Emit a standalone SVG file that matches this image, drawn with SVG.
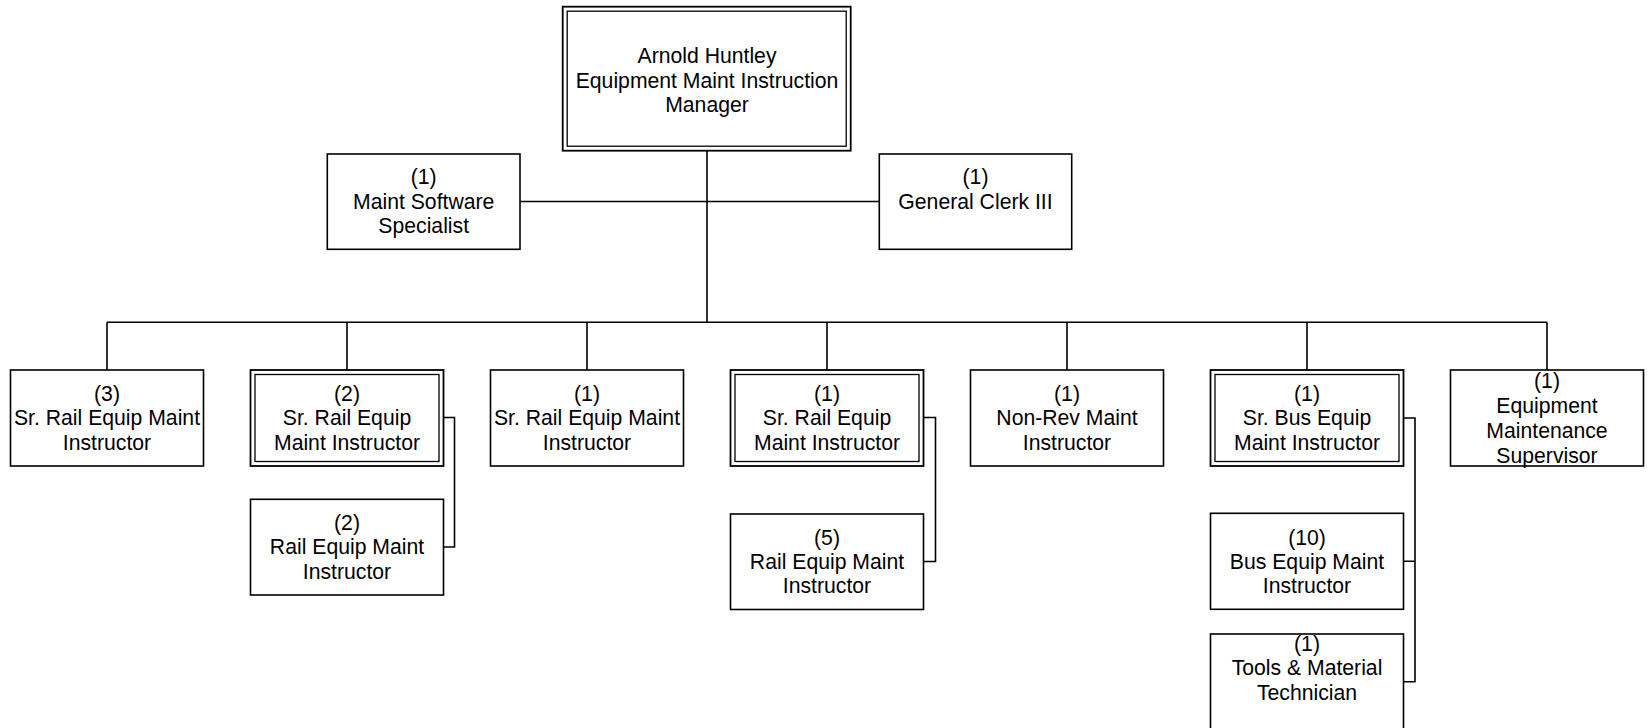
<svg xmlns="http://www.w3.org/2000/svg" width="1647" height="728" viewBox="0 0 1647 728">
<style>
.box{fill:#fff;stroke:#000;stroke-width:1.6}
.outer{fill:#fff;stroke:#000;stroke-width:1.8}
.inner{fill:none;stroke:#000;stroke-width:1.3}
.lbl{font-family:"Liberation Sans",Arial,sans-serif;font-size:21.2px;fill:#000;text-anchor:middle}
.conn{fill:none;stroke:#000;stroke-width:1.6}
</style>
<rect width="1647" height="728" fill="#fff"/>
<g id="connectors" class="conn">
<path d="M707 150.7V322.3"/>
<path d="M520 201.5H879.3"/>
<path d="M107 322.3H1547"/>
<path d="M107 322.3V370M347 322.3V370M587 322.3V370M827 322.3V370M1067 322.3V370M1307 322.3V370M1547 322.3V370"/>
<path d="M443.5 417.5H454.5V547H443.5"/>
<path d="M923.5 417.5H935.5V561.5H923.5"/>
<path d="M1403.5 418H1415V681.7H1403.5M1403.5 561.3H1415"/>
</g>
<g id="manager">
<rect class="outer" x="562.7" y="6.7" width="288" height="144"/>
<rect class="inner" x="567.2" y="11.2" width="279" height="135"/>
<text class="lbl"><tspan x="707" y="63.3">Arnold Huntley</tspan><tspan x="707" y="87.7">Equipment Maint Instruction</tspan><tspan x="707" y="112">Manager</tspan></text>
</g>
<g id="software">
<rect class="box" x="327.3" y="154" width="192.7" height="95.3"/>
<text class="lbl"><tspan x="423.7" y="184">(1)</tspan><tspan x="423.7" y="208.5">Maint Software</tspan><tspan x="423.7" y="233">Specialist</tspan></text>
</g>
<g id="clerk">
<rect class="box" x="879.3" y="154" width="192.4" height="95.3"/>
<text class="lbl"><tspan x="975.5" y="184">(1)</tspan><tspan x="975.5" y="208.5">General Clerk III</tspan></text>
</g>
<g id="sr-rail-3">
<rect class="box" x="10.5" y="370" width="193" height="96"/>
<text class="lbl"><tspan x="107" y="401">(3)</tspan><tspan x="107" y="425.3">Sr. Rail Equip Maint</tspan><tspan x="107" y="449.6">Instructor</tspan></text>
</g>
<g id="sr-rail-2">
<rect class="outer" x="250.5" y="370" width="193" height="96"/>
<rect class="inner" x="255" y="374.5" width="184" height="87"/>
<text class="lbl"><tspan x="347" y="401">(2)</tspan><tspan x="347" y="425.3">Sr. Rail Equip</tspan><tspan x="347" y="449.6">Maint Instructor</tspan></text>
</g>
<g id="rail-2">
<rect class="box" x="250.5" y="499.3" width="193" height="95.7"/>
<text class="lbl"><tspan x="347" y="530">(2)</tspan><tspan x="347" y="554.3">Rail Equip Maint</tspan><tspan x="347" y="578.6">Instructor</tspan></text>
</g>
<g id="sr-rail-1a">
<rect class="box" x="490.5" y="370" width="193" height="96"/>
<text class="lbl"><tspan x="587" y="401">(1)</tspan><tspan x="587" y="425.3">Sr. Rail Equip Maint</tspan><tspan x="587" y="449.6">Instructor</tspan></text>
</g>
<g id="sr-rail-1b">
<rect class="outer" x="730.5" y="370" width="193" height="96"/>
<rect class="inner" x="735" y="374.5" width="184" height="87"/>
<text class="lbl"><tspan x="827" y="401">(1)</tspan><tspan x="827" y="425.3">Sr. Rail Equip</tspan><tspan x="827" y="449.6">Maint Instructor</tspan></text>
</g>
<g id="rail-5">
<rect class="box" x="730.5" y="514" width="193" height="95.5"/>
<text class="lbl"><tspan x="827" y="544.5">(5)</tspan><tspan x="827" y="568.8">Rail Equip Maint</tspan><tspan x="827" y="593">Instructor</tspan></text>
</g>
<g id="non-rev">
<rect class="box" x="970.5" y="370" width="193" height="96"/>
<text class="lbl"><tspan x="1067" y="401">(1)</tspan><tspan x="1067" y="425.3">Non-Rev Maint</tspan><tspan x="1067" y="449.6">Instructor</tspan></text>
</g>
<g id="sr-bus">
<rect class="outer" x="1210.5" y="370" width="193" height="96"/>
<rect class="inner" x="1215" y="374.5" width="184" height="87"/>
<text class="lbl"><tspan x="1307" y="401">(1)</tspan><tspan x="1307" y="425.3">Sr. Bus Equip</tspan><tspan x="1307" y="449.6">Maint Instructor</tspan></text>
</g>
<g id="bus-10">
<rect class="box" x="1210.5" y="513.3" width="193" height="96"/>
<text class="lbl"><tspan x="1307" y="544.5">(10)</tspan><tspan x="1307" y="568.8">Bus Equip Maint</tspan><tspan x="1307" y="593">Instructor</tspan></text>
</g>
<g id="tools">
<rect class="box" x="1210.5" y="634" width="193" height="95.5"/>
<text class="lbl"><tspan x="1307" y="651">(1)</tspan><tspan x="1307" y="675.3">Tools &amp; Material</tspan><tspan x="1307" y="699.6">Technician</tspan></text>
</g>
<g id="supervisor">
<rect class="box" x="1450.5" y="370" width="193" height="96"/>
<text class="lbl"><tspan x="1547" y="388">(1)</tspan><tspan x="1547" y="413">Equipment</tspan><tspan x="1547" y="438">Maintenance</tspan><tspan x="1547" y="463">Supervisor</tspan></text>
</g>
</svg>
